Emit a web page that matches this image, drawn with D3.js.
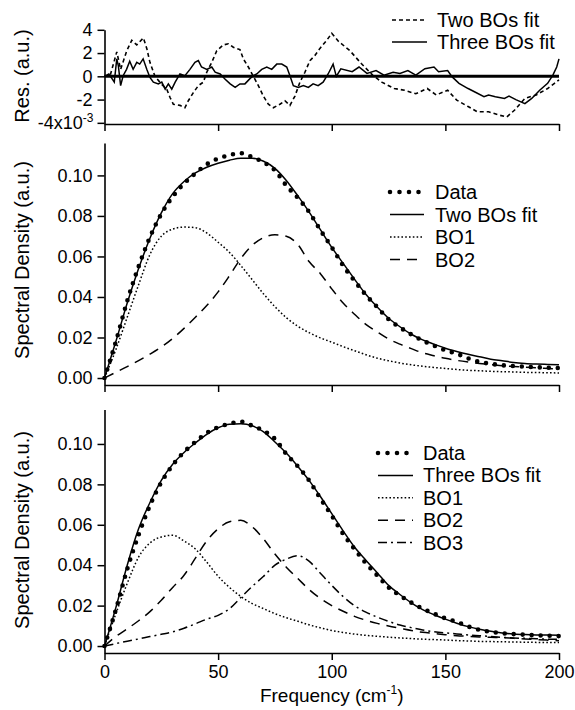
<!DOCTYPE html>
<html>
<head>
<meta charset="utf-8">
<title>Brownian oscillator fits</title>
<script src="https://d3js.org/d3.v7.min.js"></script>
<style>
  body { margin: 0; background: #fff; }
  svg { display: block; }
  text { font-family: "Liberation Sans", Arial, sans-serif; fill: #000; }
</style>
</head>
<body>
<div id="chart"></div>
<script>
// frequency grid (cm-1) for the spectral density curves
var freq = [0, 5, 10, 15, 20, 25, 30, 35, 40, 45, 50, 55, 60, 65, 70, 75, 80, 85, 90, 95,
            100, 105, 110, 115, 120, 125, 130, 135, 140, 145, 150, 155, 160, 165, 170, 175,
            180, 185, 190, 195, 200];

// measured spectral density (same data in both panels)
var specData = [0, .018, .038, .055, .0695, .081, .0895, .096, .101, .1055, .1083, .110, .111, .109, .1065,
                .1025, .095, .089, .082, .073, .0645, .0555, .048, .041, .035, .029, .025, .0215, .0185, .016,
                .0137, .012, .0097, .008, .007, .0063, .0059, .0056, .0053, .0051, .0049];

// two BOs fit and its components
var twoFit = [0, .018, .037, .054, .069, .0815, .091, .097, .1012, .104, .106, .1075, .1085, .1085, .107,
              .1035, .0975, .090, .082, .0732, .0645, .0566, .0488, .0413, .035, .0295, .0253, .0216, .0188, .0167,
              .0147, .0131, .0117, .0105, .0093, .0085, .0077, .0072, .0069, .0067, .0065];
var twoBO1 = [0, .014, .030, .046, .061, .070, .0735, .0745, .0742, .0716, .067, .062, .0555, .0485, .0415,
              .0352, .0298, .0256, .0224, .0198, .0177, .0155, .0135, .0115, .0098, .0085, .0074, .0065, .0058, .0052,
              .0047, .0042, .0038, .0036, .0033, .0031, .003, .0028, .0027, .0026, .0025];
var twoBO2 = [0, .0028, .0056, .0086, .0118, .0153, .0195, .0245, .030, .0358, .0425, .0505, .059, .0655, .0693,
              .0707, .070, .066, .0575, .0515, .044, .037, .0315, .0265, .0228, .0193, .0167, .0145, .0124, .011,
              .0097, .0087, .0079, .0072, .0066, .0061, .0057, .0054, .005, .0047, .0044];

// three BOs fit and its components
var threeFit = [0, .019, .040, .058, .071, .082, .090, .0958, .1005, .1048, .108, .1098, .110, .109, .106,
                .101, .0955, .089, .082, .074, .0655, .057, .049, .0425, .0363, .030, .0255, .0214, .018, .0155,
                .0133, .0113, .0096, .0083, .0073, .0065, .006, .0057, .0055, .0054, .0053];
var threeBO1 = [0, .016, .031, .044, .051, .054, .0548, .052, .048, .0415, .0345, .029, .0245, .021, .0185,
                .016, .014, .0123, .0105, .009, .0077, .0067, .0059, .0053, .0048, .0044, .004, .0037, .0034, .0032,
                .003, .0027, .0025, .0023, .0022, .0021, .002, .0019, .0018, .0017, .0017];
var threeBO2 = [0, .0047, .0085, .0125, .017, .0227, .029, .035, .0435, .052, .058, .0615, .0622, .059, .053,
                .0455, .039, .0335, .028, .0235, .020, .0172, .0147, .0128, .0112, .0099, .0088, .0077, .0068, .0062,
                .0056, .0051, .0048, .0045, .0043, .0041, .0038, .0035, .0032, .0029, .0026];
var threeBO3 = [0, .0012, .0024, .0035, .0047, .0058, .007, .0088, .011, .0133, .0152, .0185, .024, .0295, .0345,
                .040, .043, .0447, .042, .036, .030, .0245, .020, .0168, .0143, .0122, .0104, .0091, .0079, .0071,
                .0065, .006, .0055, .0051, .0047, .0043, .004, .0038, .0036, .0034, .0033];

// residuals (x10^-3)
var resTwoFreq = [0, 2.4, 5.4, 7.1, 9.8, 12, 14.2, 17.1, 18.6, 20, 22.2, 25.2, 27.4, 28.8, 30.3, 33.2, 35.4,
                  36.9, 39.1, 41.3, 43.5, 45, 47.2, 49.4, 52.3, 54.5, 56.7, 59.6, 61.1, 63.3, 65.5, 67.7, 69.9,
                  72.1, 74.3, 77.2, 79.4, 81.6, 83.8, 86, 88.2, 90.4, 92.6, 94.8, 97.8, 100, 103, 108, 113, 118,
                  122, 127.5, 132, 137, 142, 146, 151, 155, 160, 164, 169, 174, 177, 180.5, 185, 190, 195, 198, 200];
var resTwo = [0, 0, 2.1, 0.6, 2.2, 3.1, 2.7, 3.3, 2.4, 1.2, 0, -0.7, -1.1, -1.8, -2.4, -2.5, -2.7,
              -2.1, -1.4, -0.8, -0.5, 0.35, 1.2, 2.2, 2.7, 2.8, 2.5, 2.3, 1.5, 0.8, 0, -0.8, -1.7,
              -2.4, -2.7, -2.4, -2.1, -2.5, -1.7, -0.5, 0.35, 1.35, 1.8, 2.4, 3.1, 3.7, 3.0, 2.2, 1.1, 0.1,
              -0.5, -1.05, -1.2, -1.5, -1.05, -1.6, -1.2, -2.05, -2.6, -3.05, -3.05, -3.35, -3.5, -2.9, -1.9, -1.6, -1.05, -0.6, -0.3];
var resThreeFreq = [0, 1.9, 3.3, 4.3, 5.4, 6.1, 7.1, 8.2, 9.7, 11.1, 12.6, 14.2, 15.5, 17, 18.6, 20, 21.5, 23.7,
                    25.2, 26.7, 28.1, 29.6, 31.1, 33.2, 35.4, 37.6, 39.8, 41.3, 42.7, 45, 47.2, 48.7, 50.9, 53.1,
                    55.3, 57.5, 59.6, 61.8, 64, 65.5, 67, 69.2, 71.4, 73.6, 75.8, 78, 80.2, 81.6, 83.1, 85.3, 87.5,
                    89.7, 91.8, 94, 96.2, 98.4, 100.6, 102, 104, 109, 112, 115.5, 119.5, 123, 127, 130, 133.5, 137,
                    141, 145, 147, 151, 153, 156, 160, 163, 167, 169, 172, 176, 178, 181, 185, 188, 191.5, 195,
                    197.3, 199, 200];
var resThree = [0, 0.2, -0.2, -0.5, 1.5, 0.9, -0.8, 0.05, 0.6, 1.3, 0.6, 1.2, 1.05, 1.5, 0.6, -0.1, -0.5, -0.65,
                -0.5, -1.1, -0.65, -1.1, -0.5, 0.2, 0.05, 0.6, 1.2, 1.35, 0.8, 0.6, 0.8, 0.35, 0.2, -0.25,
                -0.65, -0.95, -0.65, -0.65, -0.2, 0.05, 0.2, 0.6, 0.8, 0.6, 1.05, 1.05, 0.8, 0.05, -0.8, -0.95, -0.8,
                -0.95, -0.65, -0.8, -0.5, 0.2, 1.05, 0, 0.65, 0.4, 0.8, 0.25, 0.5, 0.1, 0.35, 0.25, 0.5, 0.1,
                0.65, 0.8, 0.4, 0.5, -0.05, -0.6, -1.05, -1.35, -1.75, -1.6, -1.75, -1.9, -1.7, -2.0, -2.35, -1.9, -1.2, -0.6,
                0.1, 0.8, 1.5];

var xTicks = [0, 50, 100, 150, 200];
var resTicks = [4, 2, 0, -2, -4];
var specTicks = [0, 0.02, 0.04, 0.06, 0.08, 0.10];

var width = 575, height = 710;
var font = '"Liberation Sans", Arial, sans-serif';

var svg = d3.select("#chart").append("svg")
    .attr("width", width)
    .attr("height", height);

var x = d3.scaleLinear().domain([0, 200]).range([104.5, 559]);

var yRes = d3.scaleLinear().domain([-4.1, 4]).range([124, 29.8]);
var yMid = d3.scaleLinear().domain([-0.00345, 0.116]).range([385, 143]);
var yBot = d3.scaleLinear().domain([-0.00345, 0.117]).range([653, 409.6]);

function styleAxis(g) {
    g.select(".domain").attr("stroke", "#000").attr("stroke-width", 1.6);
    g.selectAll(".tick line").attr("stroke", "#000").attr("stroke-width", 1.5);
    g.selectAll(".tick text").style("font-size", "18px").style("font-family", font).attr("fill", "#000");
}

function bottomAxis(y0, labels) {
    var ax = d3.axisBottom(x).tickValues(xTicks).tickSize(7).tickSizeOuter(0).tickPadding(5);
    if (!labels) ax.tickFormat("");
    var g = svg.append("g")
        .attr("transform", "translate(0," + y0 + ")")
        .call(ax);
    styleAxis(g);
    return g;
}

function leftAxis(scale, ticks, fmt) {
    var g = svg.append("g")
        .attr("transform", "translate(" + x(0) + ",0)")
        .call(d3.axisLeft(scale).tickValues(ticks).tickSize(7).tickSizeOuter(0).tickPadding(5).tickFormat(fmt));
    styleAxis(g);
    return g;
}

function yLabel(text, cy) {
    svg.append("text")
        .attr("transform", "translate(22," + cy + ") rotate(-90)")
        .attr("text-anchor", "middle")
        .attr("dy", "0.35em")
        .style("font-size", "20px")
        .text(text);
}

function drawLine(xs, ys, scale, dash, sw, cap, curve) {
    var pts = d3.zip(xs, ys);
    var line = d3.line()
        .x(function(d) { return x(d[0]); })
        .y(function(d) { return scale(d[1]); })
        .curve(curve || d3.curveMonotoneX);
    svg.append("path")
        .datum(pts)
        .attr("fill", "none")
        .attr("stroke", "#000")
        .attr("stroke-width", sw)
        .attr("stroke-linecap", cap || "butt")
        .attr("stroke-dasharray", dash)
        .attr("d", line);
}

var styles = {
    data:  {dash: "0 9", sw: 4.6, cap: "round"},
    fit:   {dash: null, sw: 1.5},
    bo1:   {dash: "1.6 2.2", sw: 1.5},
    bo2:   {dash: "10 7", sw: 1.5},
    bo3:   {dash: "9 4 2 4", sw: 1.5},
    res2:  {dash: "4 3", sw: 1.6},
    res3:  {dash: null, sw: 1.5}
};

function legend(items, sx0, sx1, tx, y0, dy) {
    items.forEach(function(it, i) {
        var yy = y0 + i * dy;
        var s = styles[it.style];
        svg.append("line")
            .attr("x1", sx0).attr("x2", sx1)
            .attr("y1", yy).attr("y2", yy)
            .attr("stroke", "#000")
            .attr("stroke-width", s.sw)
            .attr("stroke-linecap", s.cap || "butt")
            .attr("stroke-dasharray", it.style == "data" ? "0 9.5" : s.dash);
        svg.append("text")
            .attr("x", tx).attr("y", yy)
            .attr("dy", "0.35em")
            .style("font-size", "20px")
            .text(it.label);
    });
}

// ---------- top panel: residuals ----------
svg.append("line")
    .attr("x1", x(0)).attr("x2", x(200))
    .attr("y1", yRes(0)).attr("y2", yRes(0))
    .attr("stroke", "#000").attr("stroke-width", 3);

drawLine(resTwoFreq, resTwo, yRes, styles.res2.dash, styles.res2.sw, "butt", d3.curveLinear);
drawLine(resThreeFreq, resThree, yRes, null, styles.res3.sw, "butt", d3.curveLinear);

leftAxis(yRes, resTicks, function(d) { return d == -4 ? "" : String(d); });
bottomAxis(124, false);

var lab4 = svg.append("text")
    .attr("x", x(0) - 11)
    .attr("y", yRes(-4))
    .attr("dy", "0.35em")
    .attr("text-anchor", "end")
    .style("font-size", "18px");
lab4.append("tspan").text("-4x10");
lab4.append("tspan").attr("dy", "-7").style("font-size", "12px").text("-3");

yLabel("Res. (a.u.)", 76);

legend([
    {label: "Two BOs fit", style: "res2"},
    {label: "Three BOs fit", style: "res3"}
], 392, 427, 437, 20, 22);

// ---------- middle panel: two BOs ----------
drawLine(freq, twoBO1, yMid, styles.bo1.dash, styles.bo1.sw);
drawLine(freq, twoBO2, yMid, styles.bo2.dash, styles.bo2.sw);
drawLine(freq, twoFit, yMid, null, styles.fit.sw);
drawLine(freq, specData, yMid, styles.data.dash, styles.data.sw, "round");

leftAxis(yMid, specTicks, d3.format(".2f"));
bottomAxis(385, false);
yLabel("Spectral Density (a.u.)", 260);

legend([
    {label: "Data", style: "data"},
    {label: "Two BOs fit", style: "fit"},
    {label: "BO1", style: "bo1"},
    {label: "BO2", style: "bo2"}
], 390, 424, 435, 192, 22.5);

// ---------- bottom panel: three BOs ----------
drawLine(freq, threeBO1, yBot, styles.bo1.dash, styles.bo1.sw);
drawLine(freq, threeBO2, yBot, styles.bo2.dash, styles.bo2.sw);
drawLine(freq, threeBO3, yBot, styles.bo3.dash, styles.bo3.sw);
drawLine(freq, threeFit, yBot, null, styles.fit.sw);
drawLine(freq, specData, yBot, styles.data.dash, styles.data.sw, "round");

leftAxis(yBot, specTicks, d3.format(".2f"));
bottomAxis(653, true);
yLabel("Spectral Density (a.u.)", 530);

legend([
    {label: "Data", style: "data"},
    {label: "Three BOs fit", style: "fit"},
    {label: "BO1", style: "bo1"},
    {label: "BO2", style: "bo2"},
    {label: "BO3", style: "bo3"}
], 378, 413, 423, 453, 22.4);

// x axis title
var xt = svg.append("text")
    .attr("x", x(100))
    .attr("y", 702)
    .attr("text-anchor", "middle")
    .style("font-size", "19px");
xt.append("tspan").text("Frequency (cm");
xt.append("tspan").attr("dy", "-8").style("font-size", "12px").text("-1");
xt.append("tspan").attr("dy", "8").text(")");
</script>
</body>
</html>
